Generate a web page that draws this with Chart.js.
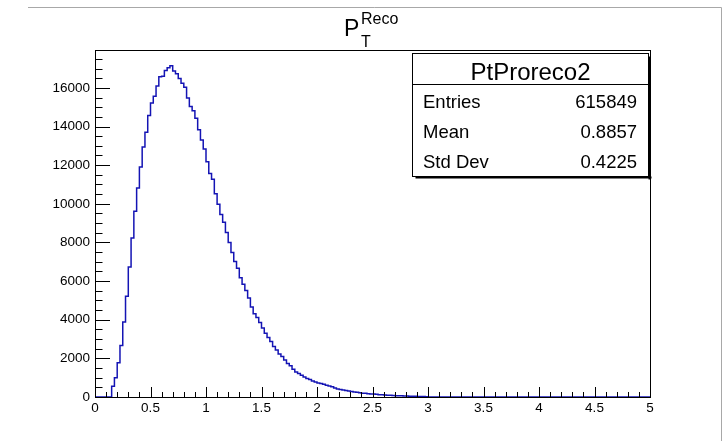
<!DOCTYPE html>
<html lang="en">
<head>
  <meta charset="UTF-8" />
  <title>PtProreco2</title>
  <script src="https://cdn.jsdelivr.net/npm/chart.js"></script>
  <style>
    body {
      margin: 0;
      padding: 0;
      background: white;
    }
    #wrap {
      width: 724px;
      height: 441px;
    }
  </style>
</head>
<body>
  <div id="wrap">
    <canvas id="hist" width="724" height="441"></canvas>
  </div>

  <script>
    // histogram binning: 200 bins from 0 to 5
    const nBins = 200;
    const xMin = 0;
    const xMax = 5;

    // bin contents
    const counts = [
      0, 0, 0, 0, 0, 0, 550, 1000, 1770, 2660,
      3880, 5220, 6730, 8230, 9620, 10820, 11900, 12940, 13700, 14570,
      15220, 15570, 16100, 16570, 16600, 16900, 17040, 17150, 16870, 16730,
      16490, 16240, 16030, 15480, 15040, 14820, 14430, 13830, 13300, 12830,
      12170, 11570, 11270, 10520, 9970, 9440, 9040, 8520, 8000, 7480,
      7010, 6660, 6170, 5830, 5510, 5130, 4660, 4310, 4120, 3860,
      3570, 3300, 3080, 2870, 2610, 2430, 2230, 2090, 1910, 1740,
      1620, 1430, 1300, 1220, 1130, 1040, 960, 900, 830, 780,
      730, 700, 660, 610, 570, 530, 470, 420, 390, 360,
      330, 310, 290, 260, 240, 220, 200, 190, 170, 160,
      150, 140, 120, 110, 100, 95, 85, 80, 70, 65,
      60, 55, 50, 45, 40, 35, 30, 25, 20, 15,
      0, 0, 0, 0, 0, 0, 0, 0, 0, 0,
      0, 0, 0, 0, 0, 0, 0, 0, 0, 0,
      0, 0, 0, 0, 0, 0, 0, 0, 0, 0,
      0, 0, 0, 0, 0, 0, 0, 0, 0, 0,
      0, 0, 0, 0, 0, 0, 0, 0, 0, 0,
      0, 0, 0, 0, 0, 0, 0, 0, 0, 0,
      0, 0, 0, 0, 0, 0, 0, 0, 0, 0,
      0, 0, 0, 0, 0, 0, 0, 0, 0, 0
    ];

    const xTicks = [0, 0.5, 1, 1.5, 2, 2.5, 3, 3.5, 4, 4.5, 5];
    const yTicks = [0, 2000, 4000, 6000, 8000, 10000, 12000, 14000, 16000];
    const yMax = 17960;

    const statsTitle = "PtProreco2";
    const statsRows = [["Entries", "615849"], ["Mean", "0.8857"], ["Std Dev", "0.4225"]];

    const FONT = "'Liberation Sans', Arial, Helvetica, sans-serif";
    const LINE = "#1414b4";

    // step points at the left edge of each bin, plus the closing edge
    const binW = (xMax - xMin) / nBins;
    const points = counts.map((c, i) => ({ x: xMin + i * binW, y: c }));
    points.push({ x: xMax, y: counts[counts.length - 1] });

    // ROOT style: frame, inside ticks, title, stats box, canvas edge
    const rootDecor = {
      id: "rootDecor",
      afterDraw(chart) {
        const ctx = chart.ctx;
        const a = chart.chartArea;
        const xs = chart.scales.x;
        const ys = chart.scales.y;
        ctx.save();

        // canvas window edge
        ctx.strokeStyle = "#a8a8a8";
        ctx.lineWidth = 1;
        ctx.beginPath();
        ctx.moveTo(28, 7.5);
        ctx.lineTo(721.5, 7.5);
        ctx.lineTo(721.5, 441);
        ctx.stroke();

        // frame
        ctx.strokeStyle = "#000";
        ctx.lineWidth = 1;
        ctx.strokeRect(Math.round(a.left) + 0.5, Math.round(a.top) + 0.5,
          Math.round(a.right - a.left), Math.round(a.bottom - a.top));

        // x ticks (major every 0.5, minor every 0.1), drawn inward
        ctx.beginPath();
        for (let k = 0; k <= 50; k++) {
          const v = k * 0.1;
          const px = Math.round(xs.getPixelForValue(v)) + 0.5;
          const len = (k % 5 === 0) ? 10 : 5;
          ctx.moveTo(px, a.bottom);
          ctx.lineTo(px, a.bottom - len);
        }
        // y ticks (major every 2000, minor every 500)
        for (let v = 0; v <= yMax; v += 500) {
          const py = Math.round(ys.getPixelForValue(v)) + 0.5;
          const len = (v % 2000 === 0) ? 15 : 7.5;
          ctx.moveTo(a.left, py);
          ctx.lineTo(a.left + len, py);
        }
        ctx.stroke();

        // title P_T^Reco
        ctx.fillStyle = "#000";
        ctx.textBaseline = "alphabetic";
        ctx.textAlign = "left";
        ctx.font = "23px " + FONT;
        ctx.fillText("P", 344, 36);
        ctx.font = "16px " + FONT;
        ctx.fillText("Reco", 361, 24);
        ctx.fillText("T", 361, 47);

        // stats box
        const bx = 412.5, by = 53.5, bw = 236, bh = 123;
        ctx.fillStyle = "#fff";
        ctx.fillRect(bx, by, bw, bh);
        ctx.fillStyle = "#000";
        ctx.fillRect(bx + 3, by + bh, bw, 2);
        ctx.fillRect(bx + bw, by + 3, 2, bh);
        ctx.strokeRect(bx, by, bw, bh);
        ctx.beginPath();
        ctx.moveTo(bx, 84.5);
        ctx.lineTo(bx + bw, 84.5);
        ctx.stroke();

        ctx.textAlign = "center";
        ctx.font = "24px " + FONT;
        ctx.fillText(statsTitle, bx + bw / 2, 80);

        ctx.font = "18.5px " + FONT;
        statsRows.forEach((row, i) => {
          const base = 108 + i * 30;
          ctx.textAlign = "left";
          ctx.fillText(row[0], 423, base);
          ctx.textAlign = "right";
          ctx.fillText(row[1], 637, base);
        });

        ctx.restore();
      }
    };

    new Chart(document.getElementById("hist"), {
      type: "line",
      data: {
        datasets: [{
          data: points,
          stepped: "before",
          borderColor: LINE,
          borderWidth: 1.5,
          pointRadius: 0,
          fill: false
        }]
      },
      options: {
        responsive: false,
        animation: false,
        devicePixelRatio: 1,
        layout: { padding: { top: 50, right: 74, left: 0, bottom: 0 } },
        plugins: {
          legend: { display: false },
          tooltip: { enabled: false },
          title: { display: false }
        },
        scales: {
          x: {
            type: "linear",
            min: xMin,
            max: xMax,
            afterBuildTicks: s => { s.ticks = xTicks.map(v => ({ value: v })); },
            afterFit: s => { s.height = 44; },
            grid: { display: false, drawTicks: false },
            border: { display: false },
            ticks: {
              padding: 3,
              maxRotation: 0,
              autoSkip: false,
              color: "#000",
              font: { family: FONT, size: 13.5 },
              callback: v => String(v)
            }
          },
          y: {
            type: "linear",
            min: 0,
            max: yMax,
            afterBuildTicks: s => { s.ticks = yTicks.map(v => ({ value: v })); },
            afterFit: s => { s.width = 95; },
            grid: { display: false, drawTicks: false },
            border: { display: false },
            ticks: {
              padding: 5,
              autoSkip: false,
              color: "#000",
              font: { family: FONT, size: 13.5 },
              callback: v => String(v)
            }
          }
        }
      },
      plugins: [rootDecor]
    });
  </script>
</body>
</html>
